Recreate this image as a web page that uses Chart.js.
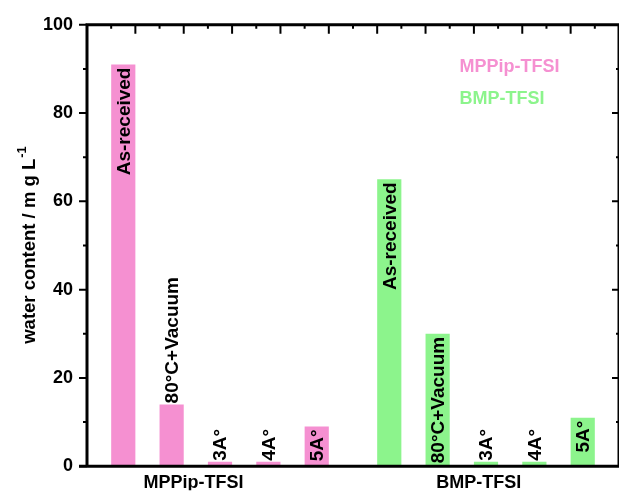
<!DOCTYPE html>
<html>
<head>
<meta charset="utf-8">
<script src="https://cdn.jsdelivr.net/npm/chart.js@4/dist/chart.umd.min.js"></script>
<style>
  html, body { margin: 0; padding: 0; background: #fff; }
  #c { display: block; }
</style>
</head>
<body>
<canvas id="c" width="619" height="491"></canvas>
<script>
const treatments = ['As-received', '80°C+Vacuum', '3A°', '4A°', '5A°'];
const groups = ['MPPip-TFSI', 'BMP-TFSI'];
const mppipWater = [91, 14, 1, 1, 9];
const bmpWater = [65, 30, 1, 1, 11];
const yTicks = [0, 20, 40, 60, 80, 100];

const PINK = '#F590D1';
const GREEN = '#8CF48C';
const FONT = "'Liberation Sans', Arial, sans-serif";

// second group starts one and a half slots after the first
function points(values, offset) {
  return values.map(function (v, i) {
    return { x: offset + i, y: v, label: treatments[i] };
  });
}

const frame = {
  id: 'frame',
  afterDatasetsDraw: function (chart) {
    const ctx = chart.ctx;
    const a = chart.chartArea;
    const x = chart.scales.x;
    const y = chart.scales.y;
    ctx.save();

    // labels on the bars
    ctx.fillStyle = '#000';
    ctx.font = 'bold 19px ' + FONT;
    ctx.textBaseline = 'middle';
    chart.data.datasets.forEach(function (ds, di) {
      chart.getDatasetMeta(di).data.forEach(function (bar, i) {
        const txt = ds.data[i].label;
        const w = ctx.measureText(txt).width;
        const h = bar.base - bar.y;
        ctx.save();
        ctx.translate(bar.x, bar.y);
        ctx.rotate(-Math.PI / 2);
        if (w + 6 <= h) {
          ctx.textAlign = 'right';
          ctx.fillText(txt, -3, 1);
        } else {
          ctx.textAlign = 'left';
          ctx.fillText(txt, 1, 1);
        }
        ctx.restore();
      });
    });

    // box
    ctx.strokeStyle = '#000';
    ctx.lineWidth = 3;
    ctx.beginPath();
    ctx.moveTo(a.left, a.top);
    ctx.lineTo(a.right, a.top);
    ctx.lineTo(a.right, a.bottom);
    ctx.moveTo(a.left, a.top - 1.5);
    ctx.lineTo(a.left, a.bottom);
    ctx.moveTo(a.left - 8, a.bottom);
    ctx.lineTo(a.right, a.bottom);
    ctx.stroke();

    // y ticks: outward on the left, inward on the right
    ctx.lineWidth = 2;
    ctx.beginPath();
    for (let v = 0; v <= 100; v += 10) {
      const py = y.getPixelForValue(v);
      const len = v % 20 === 0 ? 8 : 4;
      ctx.moveTo(a.left - len, py);
      ctx.lineTo(a.left, py);
      if (v > 0 && v < 100) {
        ctx.moveTo(a.right - len + 1, py);
        ctx.lineTo(a.right, py);
      }
    }
    // top ticks, inward
    for (let k = -0.25; k < x.max; k += 0.5) {
      const px = x.getPixelForValue(k);
      const major = Math.abs((k - 0.25) % 1) < 0.01;
      ctx.moveTo(px, a.top);
      ctx.lineTo(px, a.top + (major ? 9 : 4));
    }
    ctx.stroke();

    // legend text
    ctx.textAlign = 'left';
    ctx.textBaseline = 'middle';
    ctx.font = 'bold 18px ' + FONT;
    const lx = a.left + 0.7 * (a.right - a.left);
    chart.data.datasets.forEach(function (ds, di) {
      ctx.fillStyle = ds.backgroundColor;
      ctx.fillText(ds.label, lx, a.top + 42 + di * 32);
    });

    // y title with superscript
    ctx.fillStyle = '#000';
    ctx.translate(30, (a.top + a.bottom) / 2);
    ctx.rotate(-Math.PI / 2);
    const main = 'water content / m g L';
    const sup = '-1';
    ctx.font = 'bold 18.5px ' + FONT;
    const w1 = ctx.measureText(main).width;
    ctx.font = 'bold 13px ' + FONT;
    const w2 = ctx.measureText(sup).width;
    const sx = -(w1 + w2) / 2;
    ctx.font = 'bold 18.5px ' + FONT;
    ctx.fillText(main, sx, 0);
    ctx.font = 'bold 13px ' + FONT;
    ctx.fillText(sup, sx + w1 + 1, -8);
    ctx.restore();
  }
};

new Chart(document.getElementById('c'), {
  type: 'bar',
  data: {
    datasets: [{
      label: groups[0],
      data: points(mppipWater, 0),
      backgroundColor: PINK,
      borderWidth: 0
    }, {
      label: groups[1],
      data: points(bmpWater, 5.5),
      backgroundColor: GREEN,
      borderWidth: 0
    }]
  },
  options: {
    responsive: false,
    animation: false,
    devicePixelRatio: 1,
    grouped: false,
    barPercentage: 0.5,
    categoryPercentage: 1,
    layout: { padding: { top: 23, right: 0, left: 0, bottom: 0 } },
    plugins: {
      legend: { display: false },
      tooltip: { enabled: false }
    },
    scales: {
      x: {
        type: 'linear',
        offset: false,
        min: -0.75,
        max: 10.25,
        grid: { display: false, drawTicks: false },
        border: { display: false },
        afterBuildTicks: function (scale) {
          scale.ticks = [{ value: 1.45 }, { value: 7.35 }];
        },
        afterFit: function (scale) { scale.height = 24; },
        ticks: {
          autoSkip: false,
          maxRotation: 0,
          padding: 6,
          color: '#000',
          font: { family: FONT, size: 18, weight: 'bold' },
          callback: function (v) { return v < 5 ? groups[0] : groups[1]; }
        }
      },
      y: {
        min: 0,
        max: 100,
        grid: { display: false, drawTicks: false },
        border: { display: false },
        afterBuildTicks: function (scale) {
          scale.ticks = yTicks.map(function (v) { return { value: v }; });
        },
        afterFit: function (scale) { scale.width = 87; },
        ticks: {
          padding: 14,
          color: '#000',
          font: { family: FONT, size: 18, weight: 'bold' }
        }
      }
    }
  },
  plugins: [frame]
});
</script>
</body>
</html>
